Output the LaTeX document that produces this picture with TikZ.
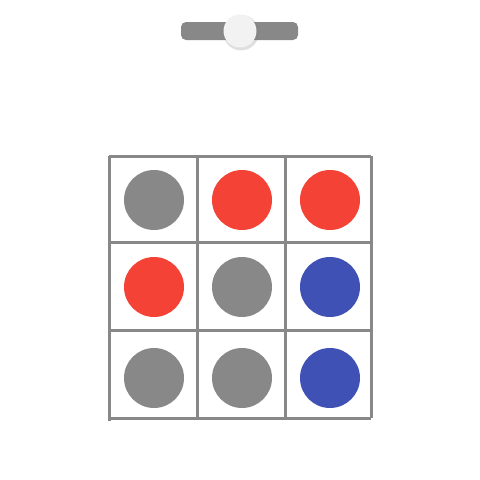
\documentclass[tikz,border=0pt]{standalone}
\usetikzlibrary{shadows,positioning}
\definecolor{gridGray}{HTML}{888888}
\definecolor{dotRed}{HTML}{F44336}
\definecolor{dotBlue}{HTML}{3F51B5}
\definecolor{knobWhite}{HTML}{F2F2F2}
\begin{document}
\begin{tikzpicture}[x=1pt,y=-1pt]
  \tikzset{dot/.style={circle,inner sep=0pt,minimum size=60pt},
           gridline/.style={draw=gridGray,line width=3pt}}
  \useasboundingbox (0,0) rectangle (480,480);
  % slider
  \node[fill=gridGray,rounded corners=5pt,minimum width=117pt,minimum height=18pt,inner sep=0pt] (track) at (239.5,31) {};
  \node[circle,fill=knobWhite,minimum size=33pt,inner sep=0pt,drop shadow={opacity=.25,shadow xshift=1pt,shadow yshift=-1.5pt,shadow scale=1.08}] (knob) at (240,31) {};
  % grid
  \draw[gridline] (109,156) -- (371,156);
  \draw[gridline] (109,242) -- (371,242);
  \draw[gridline] (109,330) -- (371,330);
  \draw[gridline] (109,418) -- (371,418);
  \draw[gridline] (109,156) -- (109,421);
  \draw[gridline] (197,156) -- (197,418);
  \draw[gridline] (285,156) -- (285,418);
  \draw[gridline] (371,156) -- (371,418);
  % dots
  \foreach \name/\x/\y/\col in {a1/154/200/gridGray,a2/242/200/dotRed,a3/330/200/dotRed,
                                b1/154/287/dotRed,b2/242/287/gridGray,b3/330/287/dotBlue,
                                c1/154/378/gridGray,c2/242/378/gridGray,c3/330/378/dotBlue}
    \node[dot,fill=\col] (\name) at (\x,\y) {};
\end{tikzpicture}
\end{document}
